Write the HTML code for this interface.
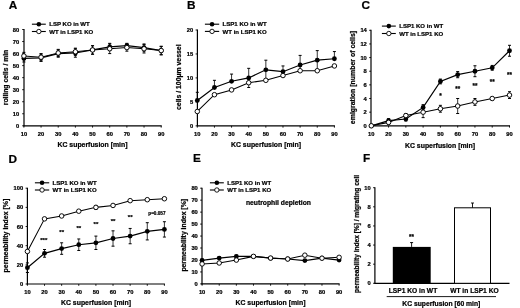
<!DOCTYPE html>
<html><head><meta charset="utf-8"><style>
html,body{margin:0;padding:0;background:#fff;width:520px;height:308px;overflow:hidden}
svg{display:block;filter:grayscale(1) blur(0.2px)}
text{font-family:"Liberation Sans", sans-serif;fill:#000;stroke:#000;stroke-width:0.22px}
</style></head><body>
<svg width="520" height="308" viewBox="0 0 520 308">
<line x1="24.00" y1="29.00" x2="24.00" y2="126.30" stroke="#000" stroke-width="1.2"/>
<line x1="23.50" y1="125.80" x2="161.70" y2="125.80" stroke="#000" stroke-width="1.2"/>
<line x1="22.20" y1="125.80" x2="24.00" y2="125.80" stroke="#000" stroke-width="0.9"/>
<text x="19.20" y="127.87" font-size="5.75" text-anchor="end" font-weight="bold">0</text>
<line x1="22.20" y1="113.76" x2="24.00" y2="113.76" stroke="#000" stroke-width="0.9"/>
<text x="19.20" y="115.83" font-size="5.75" text-anchor="end" font-weight="bold">10</text>
<line x1="22.20" y1="101.72" x2="24.00" y2="101.72" stroke="#000" stroke-width="0.9"/>
<text x="19.20" y="103.79" font-size="5.75" text-anchor="end" font-weight="bold">20</text>
<line x1="22.20" y1="89.69" x2="24.00" y2="89.69" stroke="#000" stroke-width="0.9"/>
<text x="19.20" y="91.76" font-size="5.75" text-anchor="end" font-weight="bold">30</text>
<line x1="22.20" y1="77.65" x2="24.00" y2="77.65" stroke="#000" stroke-width="0.9"/>
<text x="19.20" y="79.72" font-size="5.75" text-anchor="end" font-weight="bold">40</text>
<line x1="22.20" y1="65.61" x2="24.00" y2="65.61" stroke="#000" stroke-width="0.9"/>
<text x="19.20" y="67.68" font-size="5.75" text-anchor="end" font-weight="bold">50</text>
<line x1="22.20" y1="53.58" x2="24.00" y2="53.58" stroke="#000" stroke-width="0.9"/>
<text x="19.20" y="55.65" font-size="5.75" text-anchor="end" font-weight="bold">60</text>
<line x1="22.20" y1="41.54" x2="24.00" y2="41.54" stroke="#000" stroke-width="0.9"/>
<text x="19.20" y="43.61" font-size="5.75" text-anchor="end" font-weight="bold">70</text>
<line x1="22.20" y1="29.50" x2="24.00" y2="29.50" stroke="#000" stroke-width="0.9"/>
<text x="19.20" y="31.57" font-size="5.75" text-anchor="end" font-weight="bold">80</text>
<line x1="23.90" y1="125.80" x2="23.90" y2="127.60" stroke="#000" stroke-width="0.9"/>
<text x="23.90" y="135.80" font-size="5.75" text-anchor="middle" font-weight="bold">10</text>
<line x1="41.06" y1="125.80" x2="41.06" y2="127.60" stroke="#000" stroke-width="0.9"/>
<text x="41.06" y="135.80" font-size="5.75" text-anchor="middle" font-weight="bold">20</text>
<line x1="58.22" y1="125.80" x2="58.22" y2="127.60" stroke="#000" stroke-width="0.9"/>
<text x="58.22" y="135.80" font-size="5.75" text-anchor="middle" font-weight="bold">30</text>
<line x1="75.39" y1="125.80" x2="75.39" y2="127.60" stroke="#000" stroke-width="0.9"/>
<text x="75.39" y="135.80" font-size="5.75" text-anchor="middle" font-weight="bold">40</text>
<line x1="92.55" y1="125.80" x2="92.55" y2="127.60" stroke="#000" stroke-width="0.9"/>
<text x="92.55" y="135.80" font-size="5.75" text-anchor="middle" font-weight="bold">50</text>
<line x1="109.71" y1="125.80" x2="109.71" y2="127.60" stroke="#000" stroke-width="0.9"/>
<text x="109.71" y="135.80" font-size="5.75" text-anchor="middle" font-weight="bold">60</text>
<line x1="126.87" y1="125.80" x2="126.87" y2="127.60" stroke="#000" stroke-width="0.9"/>
<text x="126.87" y="135.80" font-size="5.75" text-anchor="middle" font-weight="bold">70</text>
<line x1="144.04" y1="125.80" x2="144.04" y2="127.60" stroke="#000" stroke-width="0.9"/>
<text x="144.04" y="135.80" font-size="5.75" text-anchor="middle" font-weight="bold">80</text>
<line x1="161.20" y1="125.80" x2="161.20" y2="127.60" stroke="#000" stroke-width="0.9"/>
<text x="161.20" y="135.80" font-size="5.75" text-anchor="middle" font-weight="bold">90</text>
<text x="92.50" y="146.80" font-size="6.9" text-anchor="middle" font-weight="bold">KC superfusion [min]</text>
<text x="8.20" y="77.50" font-size="6.8" text-anchor="middle" font-weight="bold" transform="rotate(-90 8.2 77.5)">rolling cells / min</text>
<text x="8.80" y="8.50" font-size="11.8" text-anchor="start" font-weight="bold">A</text>
<line x1="31.90" y1="24.20" x2="45.80" y2="24.20" stroke="#000" stroke-width="1.1"/>
<circle cx="38.85" cy="24.20" r="2.3" fill="#000"/>
<text x="49.20" y="26.35" font-size="6.05" text-anchor="start" font-weight="bold">LSP KO in WT</text>
<line x1="31.90" y1="31.50" x2="45.80" y2="31.50" stroke="#000" stroke-width="1.1"/>
<circle cx="38.85" cy="31.50" r="2.1999999999999997" fill="#fff" stroke="#000" stroke-width="0.9"/>
<text x="49.20" y="33.65" font-size="6.05" text-anchor="start" font-weight="bold">WT in LSP1 KO</text>
<polyline points="23.90,55.98 41.06,57.19 58.22,52.97 75.39,51.77 92.55,49.96 109.71,48.76 126.87,47.56 144.04,48.76 161.20,50.57" fill="none" stroke="#000" stroke-width="1.05"/>
<polyline points="23.90,58.39 41.06,57.79 58.22,53.58 75.39,52.97 92.55,49.96 109.71,46.95 126.87,45.63 144.04,47.56 161.20,50.57" fill="none" stroke="#000" stroke-width="1.2"/>
<line x1="23.90" y1="55.98" x2="23.90" y2="52.37" stroke="#000" stroke-width="0.8"/>
<line x1="22.40" y1="52.37" x2="25.40" y2="52.37" stroke="#000" stroke-width="1.0"/>
<line x1="23.90" y1="55.98" x2="23.90" y2="59.59" stroke="#000" stroke-width="0.8"/>
<line x1="22.40" y1="59.59" x2="25.40" y2="59.59" stroke="#000" stroke-width="1.0"/>
<line x1="41.06" y1="57.19" x2="41.06" y2="53.58" stroke="#000" stroke-width="0.8"/>
<line x1="39.56" y1="53.58" x2="42.56" y2="53.58" stroke="#000" stroke-width="1.0"/>
<line x1="41.06" y1="57.19" x2="41.06" y2="60.80" stroke="#000" stroke-width="0.8"/>
<line x1="39.56" y1="60.80" x2="42.56" y2="60.80" stroke="#000" stroke-width="1.0"/>
<line x1="58.22" y1="52.97" x2="58.22" y2="49.36" stroke="#000" stroke-width="0.8"/>
<line x1="56.72" y1="49.36" x2="59.72" y2="49.36" stroke="#000" stroke-width="1.0"/>
<line x1="58.22" y1="52.97" x2="58.22" y2="56.58" stroke="#000" stroke-width="0.8"/>
<line x1="56.72" y1="56.58" x2="59.72" y2="56.58" stroke="#000" stroke-width="1.0"/>
<line x1="75.39" y1="51.77" x2="75.39" y2="48.16" stroke="#000" stroke-width="0.8"/>
<line x1="73.89" y1="48.16" x2="76.89" y2="48.16" stroke="#000" stroke-width="1.0"/>
<line x1="75.39" y1="51.77" x2="75.39" y2="55.38" stroke="#000" stroke-width="0.8"/>
<line x1="73.89" y1="55.38" x2="76.89" y2="55.38" stroke="#000" stroke-width="1.0"/>
<line x1="92.55" y1="49.96" x2="92.55" y2="45.75" stroke="#000" stroke-width="0.8"/>
<line x1="91.05" y1="45.75" x2="94.05" y2="45.75" stroke="#000" stroke-width="1.0"/>
<line x1="92.55" y1="49.96" x2="92.55" y2="54.18" stroke="#000" stroke-width="0.8"/>
<line x1="91.05" y1="54.18" x2="94.05" y2="54.18" stroke="#000" stroke-width="1.0"/>
<line x1="109.71" y1="48.76" x2="109.71" y2="43.95" stroke="#000" stroke-width="0.8"/>
<line x1="108.21" y1="43.95" x2="111.21" y2="43.95" stroke="#000" stroke-width="1.0"/>
<line x1="109.71" y1="48.76" x2="109.71" y2="53.58" stroke="#000" stroke-width="0.8"/>
<line x1="108.21" y1="53.58" x2="111.21" y2="53.58" stroke="#000" stroke-width="1.0"/>
<line x1="126.87" y1="47.56" x2="126.87" y2="43.95" stroke="#000" stroke-width="0.8"/>
<line x1="125.37" y1="43.95" x2="128.37" y2="43.95" stroke="#000" stroke-width="1.0"/>
<line x1="126.87" y1="47.56" x2="126.87" y2="51.17" stroke="#000" stroke-width="0.8"/>
<line x1="125.37" y1="51.17" x2="128.37" y2="51.17" stroke="#000" stroke-width="1.0"/>
<line x1="144.04" y1="48.76" x2="144.04" y2="44.55" stroke="#000" stroke-width="0.8"/>
<line x1="142.54" y1="44.55" x2="145.54" y2="44.55" stroke="#000" stroke-width="1.0"/>
<line x1="144.04" y1="48.76" x2="144.04" y2="52.97" stroke="#000" stroke-width="0.8"/>
<line x1="142.54" y1="52.97" x2="145.54" y2="52.97" stroke="#000" stroke-width="1.0"/>
<line x1="161.20" y1="50.57" x2="161.20" y2="46.35" stroke="#000" stroke-width="0.8"/>
<line x1="159.70" y1="46.35" x2="162.70" y2="46.35" stroke="#000" stroke-width="1.0"/>
<line x1="161.20" y1="50.57" x2="161.20" y2="54.78" stroke="#000" stroke-width="0.8"/>
<line x1="159.70" y1="54.78" x2="162.70" y2="54.78" stroke="#000" stroke-width="1.0"/>
<line x1="23.90" y1="58.39" x2="23.90" y2="54.78" stroke="#000" stroke-width="0.8"/>
<line x1="22.40" y1="54.78" x2="25.40" y2="54.78" stroke="#000" stroke-width="1.0"/>
<line x1="23.90" y1="58.39" x2="23.90" y2="62.00" stroke="#000" stroke-width="0.8"/>
<line x1="22.40" y1="62.00" x2="25.40" y2="62.00" stroke="#000" stroke-width="1.0"/>
<line x1="41.06" y1="57.79" x2="41.06" y2="54.18" stroke="#000" stroke-width="0.8"/>
<line x1="39.56" y1="54.18" x2="42.56" y2="54.18" stroke="#000" stroke-width="1.0"/>
<line x1="41.06" y1="57.79" x2="41.06" y2="61.40" stroke="#000" stroke-width="0.8"/>
<line x1="39.56" y1="61.40" x2="42.56" y2="61.40" stroke="#000" stroke-width="1.0"/>
<line x1="58.22" y1="53.58" x2="58.22" y2="49.96" stroke="#000" stroke-width="0.8"/>
<line x1="56.72" y1="49.96" x2="59.72" y2="49.96" stroke="#000" stroke-width="1.0"/>
<line x1="58.22" y1="53.58" x2="58.22" y2="57.19" stroke="#000" stroke-width="0.8"/>
<line x1="56.72" y1="57.19" x2="59.72" y2="57.19" stroke="#000" stroke-width="1.0"/>
<line x1="75.39" y1="52.97" x2="75.39" y2="48.76" stroke="#000" stroke-width="0.8"/>
<line x1="73.89" y1="48.76" x2="76.89" y2="48.76" stroke="#000" stroke-width="1.0"/>
<line x1="75.39" y1="52.97" x2="75.39" y2="57.19" stroke="#000" stroke-width="0.8"/>
<line x1="73.89" y1="57.19" x2="76.89" y2="57.19" stroke="#000" stroke-width="1.0"/>
<line x1="92.55" y1="49.96" x2="92.55" y2="45.75" stroke="#000" stroke-width="0.8"/>
<line x1="91.05" y1="45.75" x2="94.05" y2="45.75" stroke="#000" stroke-width="1.0"/>
<line x1="92.55" y1="49.96" x2="92.55" y2="54.18" stroke="#000" stroke-width="0.8"/>
<line x1="91.05" y1="54.18" x2="94.05" y2="54.18" stroke="#000" stroke-width="1.0"/>
<line x1="109.71" y1="46.95" x2="109.71" y2="43.34" stroke="#000" stroke-width="0.8"/>
<line x1="108.21" y1="43.34" x2="111.21" y2="43.34" stroke="#000" stroke-width="1.0"/>
<line x1="109.71" y1="46.95" x2="109.71" y2="50.57" stroke="#000" stroke-width="0.8"/>
<line x1="108.21" y1="50.57" x2="111.21" y2="50.57" stroke="#000" stroke-width="1.0"/>
<line x1="126.87" y1="45.63" x2="126.87" y2="43.34" stroke="#000" stroke-width="0.8"/>
<line x1="125.37" y1="43.34" x2="128.37" y2="43.34" stroke="#000" stroke-width="1.0"/>
<line x1="126.87" y1="45.63" x2="126.87" y2="47.92" stroke="#000" stroke-width="0.8"/>
<line x1="125.37" y1="47.92" x2="128.37" y2="47.92" stroke="#000" stroke-width="1.0"/>
<line x1="144.04" y1="47.56" x2="144.04" y2="43.95" stroke="#000" stroke-width="0.8"/>
<line x1="142.54" y1="43.95" x2="145.54" y2="43.95" stroke="#000" stroke-width="1.0"/>
<line x1="144.04" y1="47.56" x2="144.04" y2="51.17" stroke="#000" stroke-width="0.8"/>
<line x1="142.54" y1="51.17" x2="145.54" y2="51.17" stroke="#000" stroke-width="1.0"/>
<line x1="161.20" y1="50.57" x2="161.20" y2="46.35" stroke="#000" stroke-width="0.8"/>
<line x1="159.70" y1="46.35" x2="162.70" y2="46.35" stroke="#000" stroke-width="1.0"/>
<line x1="161.20" y1="50.57" x2="161.20" y2="54.78" stroke="#000" stroke-width="0.8"/>
<line x1="159.70" y1="54.78" x2="162.70" y2="54.78" stroke="#000" stroke-width="1.0"/>
<circle cx="23.90" cy="58.39" r="2.4" fill="#000"/>
<circle cx="41.06" cy="57.79" r="2.4" fill="#000"/>
<circle cx="58.22" cy="53.58" r="2.4" fill="#000"/>
<circle cx="75.39" cy="52.97" r="2.4" fill="#000"/>
<circle cx="92.55" cy="49.96" r="2.4" fill="#000"/>
<circle cx="109.71" cy="46.95" r="2.4" fill="#000"/>
<circle cx="126.87" cy="45.63" r="2.4" fill="#000"/>
<circle cx="144.04" cy="47.56" r="2.4" fill="#000"/>
<circle cx="161.20" cy="50.57" r="2.4" fill="#000"/>
<circle cx="23.90" cy="55.98" r="2.275" fill="#fff" stroke="#000" stroke-width="0.95"/>
<circle cx="41.06" cy="57.19" r="2.275" fill="#fff" stroke="#000" stroke-width="0.95"/>
<circle cx="58.22" cy="52.97" r="2.275" fill="#fff" stroke="#000" stroke-width="0.95"/>
<circle cx="75.39" cy="51.77" r="2.275" fill="#fff" stroke="#000" stroke-width="0.95"/>
<circle cx="92.55" cy="49.96" r="2.275" fill="#fff" stroke="#000" stroke-width="0.95"/>
<circle cx="109.71" cy="48.76" r="2.275" fill="#fff" stroke="#000" stroke-width="0.95"/>
<circle cx="126.87" cy="47.56" r="2.275" fill="#fff" stroke="#000" stroke-width="0.95"/>
<circle cx="144.04" cy="48.76" r="2.275" fill="#fff" stroke="#000" stroke-width="0.95"/>
<circle cx="161.20" cy="50.57" r="2.275" fill="#fff" stroke="#000" stroke-width="0.95"/>
<line x1="197.40" y1="29.50" x2="197.40" y2="126.35" stroke="#000" stroke-width="1.2"/>
<line x1="196.90" y1="125.85" x2="334.90" y2="125.85" stroke="#000" stroke-width="1.2"/>
<line x1="195.60" y1="125.85" x2="197.40" y2="125.85" stroke="#000" stroke-width="0.9"/>
<text x="193.20" y="127.92" font-size="5.75" text-anchor="end" font-weight="bold">0</text>
<line x1="195.60" y1="101.89" x2="197.40" y2="101.89" stroke="#000" stroke-width="0.9"/>
<text x="193.20" y="103.96" font-size="5.75" text-anchor="end" font-weight="bold">5</text>
<line x1="195.60" y1="77.92" x2="197.40" y2="77.92" stroke="#000" stroke-width="0.9"/>
<text x="193.20" y="79.99" font-size="5.75" text-anchor="end" font-weight="bold">10</text>
<line x1="195.60" y1="53.96" x2="197.40" y2="53.96" stroke="#000" stroke-width="0.9"/>
<text x="193.20" y="56.03" font-size="5.75" text-anchor="end" font-weight="bold">15</text>
<line x1="195.60" y1="30.00" x2="197.40" y2="30.00" stroke="#000" stroke-width="0.9"/>
<text x="193.20" y="32.07" font-size="5.75" text-anchor="end" font-weight="bold">20</text>
<line x1="197.30" y1="125.85" x2="197.30" y2="127.65" stroke="#000" stroke-width="0.9"/>
<text x="197.30" y="135.85" font-size="5.75" text-anchor="middle" font-weight="bold">10</text>
<line x1="214.44" y1="125.85" x2="214.44" y2="127.65" stroke="#000" stroke-width="0.9"/>
<text x="214.44" y="135.85" font-size="5.75" text-anchor="middle" font-weight="bold">20</text>
<line x1="231.57" y1="125.85" x2="231.57" y2="127.65" stroke="#000" stroke-width="0.9"/>
<text x="231.57" y="135.85" font-size="5.75" text-anchor="middle" font-weight="bold">30</text>
<line x1="248.71" y1="125.85" x2="248.71" y2="127.65" stroke="#000" stroke-width="0.9"/>
<text x="248.71" y="135.85" font-size="5.75" text-anchor="middle" font-weight="bold">40</text>
<line x1="265.85" y1="125.85" x2="265.85" y2="127.65" stroke="#000" stroke-width="0.9"/>
<text x="265.85" y="135.85" font-size="5.75" text-anchor="middle" font-weight="bold">50</text>
<line x1="282.99" y1="125.85" x2="282.99" y2="127.65" stroke="#000" stroke-width="0.9"/>
<text x="282.99" y="135.85" font-size="5.75" text-anchor="middle" font-weight="bold">60</text>
<line x1="300.12" y1="125.85" x2="300.12" y2="127.65" stroke="#000" stroke-width="0.9"/>
<text x="300.12" y="135.85" font-size="5.75" text-anchor="middle" font-weight="bold">70</text>
<line x1="317.26" y1="125.85" x2="317.26" y2="127.65" stroke="#000" stroke-width="0.9"/>
<text x="317.26" y="135.85" font-size="5.75" text-anchor="middle" font-weight="bold">80</text>
<line x1="334.40" y1="125.85" x2="334.40" y2="127.65" stroke="#000" stroke-width="0.9"/>
<text x="334.40" y="135.85" font-size="5.75" text-anchor="middle" font-weight="bold">90</text>
<text x="266.00" y="146.60" font-size="6.9" text-anchor="middle" font-weight="bold">KC superfusion [min]</text>
<text x="181.40" y="77.20" font-size="6.9" text-anchor="middle" font-weight="bold" transform="rotate(-90 181.4 77.2)">cells / 100µm vessel</text>
<text x="187.00" y="8.60" font-size="11.8" text-anchor="start" font-weight="bold">B</text>
<line x1="204.90" y1="24.20" x2="219.20" y2="24.20" stroke="#000" stroke-width="1.1"/>
<circle cx="212.05" cy="24.20" r="2.3" fill="#000"/>
<text x="222.60" y="26.35" font-size="6.05" text-anchor="start" font-weight="bold">LSP1 KO in WT</text>
<line x1="204.90" y1="31.40" x2="219.20" y2="31.40" stroke="#000" stroke-width="1.1"/>
<circle cx="212.05" cy="31.40" r="2.1999999999999997" fill="#fff" stroke="#000" stroke-width="0.9"/>
<text x="222.60" y="33.55" font-size="6.05" text-anchor="start" font-weight="bold">WT in LSP1 KO</text>
<polyline points="197.30,111.47 214.44,94.70 231.57,89.91 248.71,82.72 265.85,80.32 282.99,75.53 300.12,70.74 317.26,70.74 334.40,65.94" fill="none" stroke="#000" stroke-width="1.05"/>
<polyline points="197.30,100.45 214.44,87.51 231.57,81.28 248.71,77.92 265.85,69.78 282.99,71.69 300.12,64.99 317.26,60.19 334.40,58.75" fill="none" stroke="#000" stroke-width="1.2"/>
<line x1="248.71" y1="82.72" x2="248.71" y2="87.51" stroke="#000" stroke-width="0.8"/>
<line x1="247.21" y1="87.51" x2="250.21" y2="87.51" stroke="#000" stroke-width="1.0"/>
<line x1="197.30" y1="100.45" x2="197.30" y2="92.30" stroke="#000" stroke-width="0.8"/>
<line x1="195.80" y1="92.30" x2="198.80" y2="92.30" stroke="#000" stroke-width="1.0"/>
<line x1="214.44" y1="87.51" x2="214.44" y2="80.32" stroke="#000" stroke-width="0.8"/>
<line x1="212.94" y1="80.32" x2="215.94" y2="80.32" stroke="#000" stroke-width="1.0"/>
<line x1="231.57" y1="81.28" x2="231.57" y2="74.09" stroke="#000" stroke-width="0.8"/>
<line x1="230.07" y1="74.09" x2="233.07" y2="74.09" stroke="#000" stroke-width="1.0"/>
<line x1="248.71" y1="77.92" x2="248.71" y2="68.34" stroke="#000" stroke-width="0.8"/>
<line x1="247.21" y1="68.34" x2="250.21" y2="68.34" stroke="#000" stroke-width="1.0"/>
<line x1="265.85" y1="69.78" x2="265.85" y2="60.19" stroke="#000" stroke-width="0.8"/>
<line x1="264.35" y1="60.19" x2="267.35" y2="60.19" stroke="#000" stroke-width="1.0"/>
<line x1="265.85" y1="69.78" x2="265.85" y2="79.36" stroke="#000" stroke-width="0.8"/>
<line x1="264.35" y1="79.36" x2="267.35" y2="79.36" stroke="#000" stroke-width="1.0"/>
<line x1="282.99" y1="71.69" x2="282.99" y2="65.94" stroke="#000" stroke-width="0.8"/>
<line x1="281.49" y1="65.94" x2="284.49" y2="65.94" stroke="#000" stroke-width="1.0"/>
<line x1="282.99" y1="71.69" x2="282.99" y2="76.49" stroke="#000" stroke-width="0.8"/>
<line x1="281.49" y1="76.49" x2="284.49" y2="76.49" stroke="#000" stroke-width="1.0"/>
<line x1="300.12" y1="64.99" x2="300.12" y2="55.40" stroke="#000" stroke-width="0.8"/>
<line x1="298.62" y1="55.40" x2="301.62" y2="55.40" stroke="#000" stroke-width="1.0"/>
<line x1="300.12" y1="64.99" x2="300.12" y2="71.22" stroke="#000" stroke-width="0.8"/>
<line x1="298.62" y1="71.22" x2="301.62" y2="71.22" stroke="#000" stroke-width="1.0"/>
<line x1="317.26" y1="60.19" x2="317.26" y2="50.61" stroke="#000" stroke-width="0.8"/>
<line x1="315.76" y1="50.61" x2="318.76" y2="50.61" stroke="#000" stroke-width="1.0"/>
<line x1="317.26" y1="60.19" x2="317.26" y2="70.74" stroke="#000" stroke-width="0.8"/>
<line x1="315.76" y1="70.74" x2="318.76" y2="70.74" stroke="#000" stroke-width="1.0"/>
<line x1="334.40" y1="58.75" x2="334.40" y2="51.57" stroke="#000" stroke-width="0.8"/>
<line x1="332.90" y1="51.57" x2="335.90" y2="51.57" stroke="#000" stroke-width="1.0"/>
<circle cx="197.30" cy="100.45" r="2.4" fill="#000"/>
<circle cx="214.44" cy="87.51" r="2.4" fill="#000"/>
<circle cx="231.57" cy="81.28" r="2.4" fill="#000"/>
<circle cx="248.71" cy="77.92" r="2.4" fill="#000"/>
<circle cx="265.85" cy="69.78" r="2.4" fill="#000"/>
<circle cx="282.99" cy="71.69" r="2.4" fill="#000"/>
<circle cx="300.12" cy="64.99" r="2.4" fill="#000"/>
<circle cx="317.26" cy="60.19" r="2.4" fill="#000"/>
<circle cx="334.40" cy="58.75" r="2.4" fill="#000"/>
<circle cx="197.30" cy="111.47" r="2.275" fill="#fff" stroke="#000" stroke-width="0.95"/>
<circle cx="214.44" cy="94.70" r="2.275" fill="#fff" stroke="#000" stroke-width="0.95"/>
<circle cx="231.57" cy="89.91" r="2.275" fill="#fff" stroke="#000" stroke-width="0.95"/>
<circle cx="248.71" cy="82.72" r="2.275" fill="#fff" stroke="#000" stroke-width="0.95"/>
<circle cx="265.85" cy="80.32" r="2.275" fill="#fff" stroke="#000" stroke-width="0.95"/>
<circle cx="282.99" cy="75.53" r="2.275" fill="#fff" stroke="#000" stroke-width="0.95"/>
<circle cx="300.12" cy="70.74" r="2.275" fill="#fff" stroke="#000" stroke-width="0.95"/>
<circle cx="317.26" cy="70.74" r="2.275" fill="#fff" stroke="#000" stroke-width="0.95"/>
<circle cx="334.40" cy="65.94" r="2.275" fill="#fff" stroke="#000" stroke-width="0.95"/>
<line x1="371.00" y1="29.80" x2="371.00" y2="126.30" stroke="#000" stroke-width="1.2"/>
<line x1="370.50" y1="125.80" x2="510.00" y2="125.80" stroke="#000" stroke-width="1.2"/>
<line x1="369.20" y1="125.80" x2="371.00" y2="125.80" stroke="#000" stroke-width="0.9"/>
<text x="366.80" y="127.87" font-size="5.75" text-anchor="end" font-weight="bold">0</text>
<line x1="369.20" y1="112.16" x2="371.00" y2="112.16" stroke="#000" stroke-width="0.9"/>
<text x="366.80" y="114.23" font-size="5.75" text-anchor="end" font-weight="bold">2</text>
<line x1="369.20" y1="98.51" x2="371.00" y2="98.51" stroke="#000" stroke-width="0.9"/>
<text x="366.80" y="100.58" font-size="5.75" text-anchor="end" font-weight="bold">4</text>
<line x1="369.20" y1="84.87" x2="371.00" y2="84.87" stroke="#000" stroke-width="0.9"/>
<text x="366.80" y="86.94" font-size="5.75" text-anchor="end" font-weight="bold">6</text>
<line x1="369.20" y1="71.23" x2="371.00" y2="71.23" stroke="#000" stroke-width="0.9"/>
<text x="366.80" y="73.30" font-size="5.75" text-anchor="end" font-weight="bold">8</text>
<line x1="369.20" y1="57.59" x2="371.00" y2="57.59" stroke="#000" stroke-width="0.9"/>
<text x="366.80" y="59.66" font-size="5.75" text-anchor="end" font-weight="bold">10</text>
<line x1="369.20" y1="43.94" x2="371.00" y2="43.94" stroke="#000" stroke-width="0.9"/>
<text x="366.80" y="46.01" font-size="5.75" text-anchor="end" font-weight="bold">12</text>
<line x1="369.20" y1="30.30" x2="371.00" y2="30.30" stroke="#000" stroke-width="0.9"/>
<text x="366.80" y="32.37" font-size="5.75" text-anchor="end" font-weight="bold">14</text>
<line x1="371.30" y1="125.80" x2="371.30" y2="127.60" stroke="#000" stroke-width="0.9"/>
<text x="371.30" y="135.80" font-size="5.75" text-anchor="middle" font-weight="bold">10</text>
<line x1="388.57" y1="125.80" x2="388.57" y2="127.60" stroke="#000" stroke-width="0.9"/>
<text x="388.57" y="135.80" font-size="5.75" text-anchor="middle" font-weight="bold">20</text>
<line x1="405.85" y1="125.80" x2="405.85" y2="127.60" stroke="#000" stroke-width="0.9"/>
<text x="405.85" y="135.80" font-size="5.75" text-anchor="middle" font-weight="bold">30</text>
<line x1="423.12" y1="125.80" x2="423.12" y2="127.60" stroke="#000" stroke-width="0.9"/>
<text x="423.12" y="135.80" font-size="5.75" text-anchor="middle" font-weight="bold">40</text>
<line x1="440.40" y1="125.80" x2="440.40" y2="127.60" stroke="#000" stroke-width="0.9"/>
<text x="440.40" y="135.80" font-size="5.75" text-anchor="middle" font-weight="bold">50</text>
<line x1="457.68" y1="125.80" x2="457.68" y2="127.60" stroke="#000" stroke-width="0.9"/>
<text x="457.68" y="135.80" font-size="5.75" text-anchor="middle" font-weight="bold">60</text>
<line x1="474.95" y1="125.80" x2="474.95" y2="127.60" stroke="#000" stroke-width="0.9"/>
<text x="474.95" y="135.80" font-size="5.75" text-anchor="middle" font-weight="bold">70</text>
<line x1="492.23" y1="125.80" x2="492.23" y2="127.60" stroke="#000" stroke-width="0.9"/>
<text x="492.23" y="135.80" font-size="5.75" text-anchor="middle" font-weight="bold">80</text>
<line x1="509.50" y1="125.80" x2="509.50" y2="127.60" stroke="#000" stroke-width="0.9"/>
<text x="509.50" y="135.80" font-size="5.75" text-anchor="middle" font-weight="bold">90</text>
<text x="440.00" y="147.60" font-size="6.9" text-anchor="middle" font-weight="bold">KC superfusion [min]</text>
<text x="354.90" y="77.50" font-size="6.95" text-anchor="middle" font-weight="bold" transform="rotate(-90 354.9 77.5)">emigration [number of cells]</text>
<text x="361.40" y="9.30" font-size="11.8" text-anchor="start" font-weight="bold">C</text>
<line x1="381.90" y1="26.10" x2="395.80" y2="26.10" stroke="#000" stroke-width="1.1"/>
<circle cx="388.85" cy="26.10" r="2.3" fill="#000"/>
<text x="399.20" y="28.25" font-size="6.05" text-anchor="start" font-weight="bold">LSP1 KO in WT</text>
<line x1="381.90" y1="33.50" x2="395.80" y2="33.50" stroke="#000" stroke-width="1.1"/>
<circle cx="388.85" cy="33.50" r="2.1999999999999997" fill="#fff" stroke="#000" stroke-width="0.9"/>
<text x="399.20" y="35.65" font-size="6.05" text-anchor="start" font-weight="bold">WT in LSP1 KO</text>
<polyline points="371.30,125.80 388.57,122.39 405.85,115.57 423.12,112.16 440.40,108.75 457.68,106.02 474.95,101.92 492.23,98.51 509.50,95.10" fill="none" stroke="#000" stroke-width="1.05"/>
<polyline points="371.30,125.80 388.57,120.68 405.85,118.98 423.12,107.38 440.40,81.46 457.68,74.64 474.95,71.23 492.23,67.82 509.50,50.76" fill="none" stroke="#000" stroke-width="1.2"/>
<line x1="388.57" y1="122.39" x2="388.57" y2="120.34" stroke="#000" stroke-width="0.8"/>
<line x1="387.07" y1="120.34" x2="390.07" y2="120.34" stroke="#000" stroke-width="1.0"/>
<line x1="388.57" y1="122.39" x2="388.57" y2="124.44" stroke="#000" stroke-width="0.8"/>
<line x1="387.07" y1="124.44" x2="390.07" y2="124.44" stroke="#000" stroke-width="1.0"/>
<line x1="405.85" y1="115.57" x2="405.85" y2="113.52" stroke="#000" stroke-width="0.8"/>
<line x1="404.35" y1="113.52" x2="407.35" y2="113.52" stroke="#000" stroke-width="1.0"/>
<line x1="405.85" y1="115.57" x2="405.85" y2="117.61" stroke="#000" stroke-width="0.8"/>
<line x1="404.35" y1="117.61" x2="407.35" y2="117.61" stroke="#000" stroke-width="1.0"/>
<line x1="423.12" y1="112.16" x2="423.12" y2="106.70" stroke="#000" stroke-width="0.8"/>
<line x1="421.62" y1="106.70" x2="424.62" y2="106.70" stroke="#000" stroke-width="1.0"/>
<line x1="423.12" y1="112.16" x2="423.12" y2="117.61" stroke="#000" stroke-width="0.8"/>
<line x1="421.62" y1="117.61" x2="424.62" y2="117.61" stroke="#000" stroke-width="1.0"/>
<line x1="440.40" y1="108.75" x2="440.40" y2="105.34" stroke="#000" stroke-width="0.8"/>
<line x1="438.90" y1="105.34" x2="441.90" y2="105.34" stroke="#000" stroke-width="1.0"/>
<line x1="440.40" y1="108.75" x2="440.40" y2="112.16" stroke="#000" stroke-width="0.8"/>
<line x1="438.90" y1="112.16" x2="441.90" y2="112.16" stroke="#000" stroke-width="1.0"/>
<line x1="457.68" y1="106.02" x2="457.68" y2="98.51" stroke="#000" stroke-width="0.8"/>
<line x1="456.18" y1="98.51" x2="459.18" y2="98.51" stroke="#000" stroke-width="1.0"/>
<line x1="457.68" y1="106.02" x2="457.68" y2="113.52" stroke="#000" stroke-width="0.8"/>
<line x1="456.18" y1="113.52" x2="459.18" y2="113.52" stroke="#000" stroke-width="1.0"/>
<line x1="474.95" y1="101.92" x2="474.95" y2="98.51" stroke="#000" stroke-width="0.8"/>
<line x1="473.45" y1="98.51" x2="476.45" y2="98.51" stroke="#000" stroke-width="1.0"/>
<line x1="474.95" y1="101.92" x2="474.95" y2="105.34" stroke="#000" stroke-width="0.8"/>
<line x1="473.45" y1="105.34" x2="476.45" y2="105.34" stroke="#000" stroke-width="1.0"/>
<line x1="492.23" y1="98.51" x2="492.23" y2="97.15" stroke="#000" stroke-width="0.8"/>
<line x1="490.73" y1="97.15" x2="493.73" y2="97.15" stroke="#000" stroke-width="1.0"/>
<line x1="492.23" y1="98.51" x2="492.23" y2="99.88" stroke="#000" stroke-width="0.8"/>
<line x1="490.73" y1="99.88" x2="493.73" y2="99.88" stroke="#000" stroke-width="1.0"/>
<line x1="509.50" y1="95.10" x2="509.50" y2="91.69" stroke="#000" stroke-width="0.8"/>
<line x1="508.00" y1="91.69" x2="511.00" y2="91.69" stroke="#000" stroke-width="1.0"/>
<line x1="509.50" y1="95.10" x2="509.50" y2="98.51" stroke="#000" stroke-width="0.8"/>
<line x1="508.00" y1="98.51" x2="511.00" y2="98.51" stroke="#000" stroke-width="1.0"/>
<line x1="388.57" y1="120.68" x2="388.57" y2="118.64" stroke="#000" stroke-width="0.8"/>
<line x1="387.07" y1="118.64" x2="390.07" y2="118.64" stroke="#000" stroke-width="1.0"/>
<line x1="388.57" y1="120.68" x2="388.57" y2="122.73" stroke="#000" stroke-width="0.8"/>
<line x1="387.07" y1="122.73" x2="390.07" y2="122.73" stroke="#000" stroke-width="1.0"/>
<line x1="405.85" y1="118.98" x2="405.85" y2="116.93" stroke="#000" stroke-width="0.8"/>
<line x1="404.35" y1="116.93" x2="407.35" y2="116.93" stroke="#000" stroke-width="1.0"/>
<line x1="405.85" y1="118.98" x2="405.85" y2="121.02" stroke="#000" stroke-width="0.8"/>
<line x1="404.35" y1="121.02" x2="407.35" y2="121.02" stroke="#000" stroke-width="1.0"/>
<line x1="423.12" y1="107.38" x2="423.12" y2="104.65" stroke="#000" stroke-width="0.8"/>
<line x1="421.62" y1="104.65" x2="424.62" y2="104.65" stroke="#000" stroke-width="1.0"/>
<line x1="423.12" y1="107.38" x2="423.12" y2="110.11" stroke="#000" stroke-width="0.8"/>
<line x1="421.62" y1="110.11" x2="424.62" y2="110.11" stroke="#000" stroke-width="1.0"/>
<line x1="440.40" y1="81.46" x2="440.40" y2="79.07" stroke="#000" stroke-width="0.8"/>
<line x1="438.90" y1="79.07" x2="441.90" y2="79.07" stroke="#000" stroke-width="1.0"/>
<line x1="440.40" y1="81.46" x2="440.40" y2="83.85" stroke="#000" stroke-width="0.8"/>
<line x1="438.90" y1="83.85" x2="441.90" y2="83.85" stroke="#000" stroke-width="1.0"/>
<line x1="457.68" y1="74.64" x2="457.68" y2="71.57" stroke="#000" stroke-width="0.8"/>
<line x1="456.18" y1="71.57" x2="459.18" y2="71.57" stroke="#000" stroke-width="1.0"/>
<line x1="457.68" y1="74.64" x2="457.68" y2="77.71" stroke="#000" stroke-width="0.8"/>
<line x1="456.18" y1="77.71" x2="459.18" y2="77.71" stroke="#000" stroke-width="1.0"/>
<line x1="474.95" y1="71.23" x2="474.95" y2="65.77" stroke="#000" stroke-width="0.8"/>
<line x1="473.45" y1="65.77" x2="476.45" y2="65.77" stroke="#000" stroke-width="1.0"/>
<line x1="474.95" y1="71.23" x2="474.95" y2="76.69" stroke="#000" stroke-width="0.8"/>
<line x1="473.45" y1="76.69" x2="476.45" y2="76.69" stroke="#000" stroke-width="1.0"/>
<line x1="492.23" y1="67.82" x2="492.23" y2="65.43" stroke="#000" stroke-width="0.8"/>
<line x1="490.73" y1="65.43" x2="493.73" y2="65.43" stroke="#000" stroke-width="1.0"/>
<line x1="492.23" y1="67.82" x2="492.23" y2="70.21" stroke="#000" stroke-width="0.8"/>
<line x1="490.73" y1="70.21" x2="493.73" y2="70.21" stroke="#000" stroke-width="1.0"/>
<line x1="509.50" y1="50.76" x2="509.50" y2="45.31" stroke="#000" stroke-width="0.8"/>
<line x1="508.00" y1="45.31" x2="511.00" y2="45.31" stroke="#000" stroke-width="1.0"/>
<line x1="509.50" y1="50.76" x2="509.50" y2="56.22" stroke="#000" stroke-width="0.8"/>
<line x1="508.00" y1="56.22" x2="511.00" y2="56.22" stroke="#000" stroke-width="1.0"/>
<circle cx="371.30" cy="125.80" r="2.4" fill="#000"/>
<circle cx="388.57" cy="120.68" r="2.4" fill="#000"/>
<circle cx="405.85" cy="118.98" r="2.4" fill="#000"/>
<circle cx="423.12" cy="107.38" r="2.4" fill="#000"/>
<circle cx="440.40" cy="81.46" r="2.4" fill="#000"/>
<circle cx="457.68" cy="74.64" r="2.4" fill="#000"/>
<circle cx="474.95" cy="71.23" r="2.4" fill="#000"/>
<circle cx="492.23" cy="67.82" r="2.4" fill="#000"/>
<circle cx="509.50" cy="50.76" r="2.4" fill="#000"/>
<circle cx="371.30" cy="125.80" r="2.275" fill="#fff" stroke="#000" stroke-width="0.95"/>
<circle cx="388.57" cy="122.39" r="2.275" fill="#fff" stroke="#000" stroke-width="0.95"/>
<circle cx="405.85" cy="115.57" r="2.275" fill="#fff" stroke="#000" stroke-width="0.95"/>
<circle cx="423.12" cy="112.16" r="2.275" fill="#fff" stroke="#000" stroke-width="0.95"/>
<circle cx="440.40" cy="108.75" r="2.275" fill="#fff" stroke="#000" stroke-width="0.95"/>
<circle cx="457.68" cy="106.02" r="2.275" fill="#fff" stroke="#000" stroke-width="0.95"/>
<circle cx="474.95" cy="101.92" r="2.275" fill="#fff" stroke="#000" stroke-width="0.95"/>
<circle cx="492.23" cy="98.51" r="2.275" fill="#fff" stroke="#000" stroke-width="0.95"/>
<circle cx="509.50" cy="95.10" r="2.275" fill="#fff" stroke="#000" stroke-width="0.95"/>
<text x="440.40" y="98.11" font-size="6.5" text-anchor="middle" font-weight="bold">*</text>
<text x="457.68" y="91.41" font-size="6.3" text-anchor="middle" font-weight="bold">**</text>
<text x="474.95" y="88.41" font-size="6.3" text-anchor="middle" font-weight="bold">**</text>
<text x="492.23" y="83.71" font-size="6.3" text-anchor="middle" font-weight="bold">**</text>
<text x="509.50" y="76.61" font-size="6.3" text-anchor="middle" font-weight="bold">**</text>
<line x1="27.40" y1="187.70" x2="27.40" y2="284.50" stroke="#000" stroke-width="1.2"/>
<line x1="26.90" y1="284.00" x2="164.90" y2="284.00" stroke="#000" stroke-width="1.2"/>
<line x1="25.60" y1="284.00" x2="27.40" y2="284.00" stroke="#000" stroke-width="0.9"/>
<text x="23.20" y="286.07" font-size="5.75" text-anchor="end" font-weight="bold">0</text>
<line x1="25.60" y1="264.84" x2="27.40" y2="264.84" stroke="#000" stroke-width="0.9"/>
<text x="23.20" y="266.91" font-size="5.75" text-anchor="end" font-weight="bold">20</text>
<line x1="25.60" y1="245.68" x2="27.40" y2="245.68" stroke="#000" stroke-width="0.9"/>
<text x="23.20" y="247.75" font-size="5.75" text-anchor="end" font-weight="bold">40</text>
<line x1="25.60" y1="226.52" x2="27.40" y2="226.52" stroke="#000" stroke-width="0.9"/>
<text x="23.20" y="228.59" font-size="5.75" text-anchor="end" font-weight="bold">60</text>
<line x1="25.60" y1="207.36" x2="27.40" y2="207.36" stroke="#000" stroke-width="0.9"/>
<text x="23.20" y="209.43" font-size="5.75" text-anchor="end" font-weight="bold">80</text>
<line x1="25.60" y1="188.20" x2="27.40" y2="188.20" stroke="#000" stroke-width="0.9"/>
<text x="23.20" y="190.27" font-size="5.75" text-anchor="end" font-weight="bold">100</text>
<line x1="27.40" y1="284.00" x2="27.40" y2="285.80" stroke="#000" stroke-width="0.9"/>
<text x="27.40" y="294.00" font-size="5.75" text-anchor="middle" font-weight="bold">10</text>
<line x1="44.52" y1="284.00" x2="44.52" y2="285.80" stroke="#000" stroke-width="0.9"/>
<text x="44.52" y="294.00" font-size="5.75" text-anchor="middle" font-weight="bold">20</text>
<line x1="61.65" y1="284.00" x2="61.65" y2="285.80" stroke="#000" stroke-width="0.9"/>
<text x="61.65" y="294.00" font-size="5.75" text-anchor="middle" font-weight="bold">30</text>
<line x1="78.78" y1="284.00" x2="78.78" y2="285.80" stroke="#000" stroke-width="0.9"/>
<text x="78.78" y="294.00" font-size="5.75" text-anchor="middle" font-weight="bold">40</text>
<line x1="95.90" y1="284.00" x2="95.90" y2="285.80" stroke="#000" stroke-width="0.9"/>
<text x="95.90" y="294.00" font-size="5.75" text-anchor="middle" font-weight="bold">50</text>
<line x1="113.03" y1="284.00" x2="113.03" y2="285.80" stroke="#000" stroke-width="0.9"/>
<text x="113.03" y="294.00" font-size="5.75" text-anchor="middle" font-weight="bold">60</text>
<line x1="130.15" y1="284.00" x2="130.15" y2="285.80" stroke="#000" stroke-width="0.9"/>
<text x="130.15" y="294.00" font-size="5.75" text-anchor="middle" font-weight="bold">70</text>
<line x1="147.28" y1="284.00" x2="147.28" y2="285.80" stroke="#000" stroke-width="0.9"/>
<text x="147.28" y="294.00" font-size="5.75" text-anchor="middle" font-weight="bold">80</text>
<line x1="164.40" y1="284.00" x2="164.40" y2="285.80" stroke="#000" stroke-width="0.9"/>
<text x="164.40" y="294.00" font-size="5.75" text-anchor="middle" font-weight="bold">90</text>
<text x="96.00" y="305.10" font-size="6.9" text-anchor="middle" font-weight="bold">KC superfusion [min]</text>
<text x="7.80" y="235.60" font-size="6.95" text-anchor="middle" font-weight="bold" transform="rotate(-90 7.8 235.6)">permeability index [%]</text>
<text x="8.40" y="162.50" font-size="11.8" text-anchor="start" font-weight="bold">D</text>
<line x1="34.90" y1="182.80" x2="49.20" y2="182.80" stroke="#000" stroke-width="1.1"/>
<circle cx="42.05" cy="182.80" r="2.3" fill="#000"/>
<text x="52.60" y="184.95" font-size="6.05" text-anchor="start" font-weight="bold">LSP1 KO in WT</text>
<line x1="34.90" y1="190.00" x2="49.20" y2="190.00" stroke="#000" stroke-width="1.1"/>
<circle cx="42.05" cy="190.00" r="2.1999999999999997" fill="#fff" stroke="#000" stroke-width="0.9"/>
<text x="52.60" y="192.15" font-size="6.05" text-anchor="start" font-weight="bold">WT in LSP1 KO</text>
<polyline points="27.40,251.43 44.52,218.86 61.65,215.98 78.78,211.19 95.90,207.36 113.03,205.44 130.15,200.65 147.28,199.70 164.40,198.74" fill="none" stroke="#000" stroke-width="1.05"/>
<polyline points="27.40,267.71 44.52,253.34 61.65,248.55 78.78,244.72 95.90,242.81 113.03,238.50 130.15,236.10 147.28,231.31 164.40,229.39" fill="none" stroke="#000" stroke-width="1.2"/>
<line x1="95.90" y1="207.36" x2="95.90" y2="205.44" stroke="#000" stroke-width="0.8"/>
<line x1="94.40" y1="205.44" x2="97.40" y2="205.44" stroke="#000" stroke-width="1.0"/>
<line x1="95.90" y1="207.36" x2="95.90" y2="209.28" stroke="#000" stroke-width="0.8"/>
<line x1="94.40" y1="209.28" x2="97.40" y2="209.28" stroke="#000" stroke-width="1.0"/>
<line x1="27.40" y1="267.71" x2="27.40" y2="262.92" stroke="#000" stroke-width="0.8"/>
<line x1="25.90" y1="262.92" x2="28.90" y2="262.92" stroke="#000" stroke-width="1.0"/>
<line x1="27.40" y1="267.71" x2="27.40" y2="272.50" stroke="#000" stroke-width="0.8"/>
<line x1="25.90" y1="272.50" x2="28.90" y2="272.50" stroke="#000" stroke-width="1.0"/>
<line x1="44.52" y1="253.34" x2="44.52" y2="249.51" stroke="#000" stroke-width="0.8"/>
<line x1="43.02" y1="249.51" x2="46.02" y2="249.51" stroke="#000" stroke-width="1.0"/>
<line x1="44.52" y1="253.34" x2="44.52" y2="257.18" stroke="#000" stroke-width="0.8"/>
<line x1="43.02" y1="257.18" x2="46.02" y2="257.18" stroke="#000" stroke-width="1.0"/>
<line x1="61.65" y1="248.55" x2="61.65" y2="242.81" stroke="#000" stroke-width="0.8"/>
<line x1="60.15" y1="242.81" x2="63.15" y2="242.81" stroke="#000" stroke-width="1.0"/>
<line x1="61.65" y1="248.55" x2="61.65" y2="254.30" stroke="#000" stroke-width="0.8"/>
<line x1="60.15" y1="254.30" x2="63.15" y2="254.30" stroke="#000" stroke-width="1.0"/>
<line x1="78.78" y1="244.72" x2="78.78" y2="238.97" stroke="#000" stroke-width="0.8"/>
<line x1="77.28" y1="238.97" x2="80.28" y2="238.97" stroke="#000" stroke-width="1.0"/>
<line x1="78.78" y1="244.72" x2="78.78" y2="250.47" stroke="#000" stroke-width="0.8"/>
<line x1="77.28" y1="250.47" x2="80.28" y2="250.47" stroke="#000" stroke-width="1.0"/>
<line x1="95.90" y1="242.81" x2="95.90" y2="236.10" stroke="#000" stroke-width="0.8"/>
<line x1="94.40" y1="236.10" x2="97.40" y2="236.10" stroke="#000" stroke-width="1.0"/>
<line x1="95.90" y1="242.81" x2="95.90" y2="249.51" stroke="#000" stroke-width="0.8"/>
<line x1="94.40" y1="249.51" x2="97.40" y2="249.51" stroke="#000" stroke-width="1.0"/>
<line x1="113.03" y1="238.50" x2="113.03" y2="230.83" stroke="#000" stroke-width="0.8"/>
<line x1="111.53" y1="230.83" x2="114.53" y2="230.83" stroke="#000" stroke-width="1.0"/>
<line x1="113.03" y1="238.50" x2="113.03" y2="246.16" stroke="#000" stroke-width="0.8"/>
<line x1="111.53" y1="246.16" x2="114.53" y2="246.16" stroke="#000" stroke-width="1.0"/>
<line x1="130.15" y1="236.10" x2="130.15" y2="228.44" stroke="#000" stroke-width="0.8"/>
<line x1="128.65" y1="228.44" x2="131.65" y2="228.44" stroke="#000" stroke-width="1.0"/>
<line x1="130.15" y1="236.10" x2="130.15" y2="243.76" stroke="#000" stroke-width="0.8"/>
<line x1="128.65" y1="243.76" x2="131.65" y2="243.76" stroke="#000" stroke-width="1.0"/>
<line x1="147.28" y1="231.31" x2="147.28" y2="222.69" stroke="#000" stroke-width="0.8"/>
<line x1="145.78" y1="222.69" x2="148.78" y2="222.69" stroke="#000" stroke-width="1.0"/>
<line x1="147.28" y1="231.31" x2="147.28" y2="239.93" stroke="#000" stroke-width="0.8"/>
<line x1="145.78" y1="239.93" x2="148.78" y2="239.93" stroke="#000" stroke-width="1.0"/>
<line x1="164.40" y1="229.39" x2="164.40" y2="221.73" stroke="#000" stroke-width="0.8"/>
<line x1="162.90" y1="221.73" x2="165.90" y2="221.73" stroke="#000" stroke-width="1.0"/>
<line x1="164.40" y1="229.39" x2="164.40" y2="237.06" stroke="#000" stroke-width="0.8"/>
<line x1="162.90" y1="237.06" x2="165.90" y2="237.06" stroke="#000" stroke-width="1.0"/>
<circle cx="27.40" cy="267.71" r="2.4" fill="#000"/>
<circle cx="44.52" cy="253.34" r="2.4" fill="#000"/>
<circle cx="61.65" cy="248.55" r="2.4" fill="#000"/>
<circle cx="78.78" cy="244.72" r="2.4" fill="#000"/>
<circle cx="95.90" cy="242.81" r="2.4" fill="#000"/>
<circle cx="113.03" cy="238.50" r="2.4" fill="#000"/>
<circle cx="130.15" cy="236.10" r="2.4" fill="#000"/>
<circle cx="147.28" cy="231.31" r="2.4" fill="#000"/>
<circle cx="164.40" cy="229.39" r="2.4" fill="#000"/>
<circle cx="27.40" cy="251.43" r="2.275" fill="#fff" stroke="#000" stroke-width="0.95"/>
<circle cx="44.52" cy="218.86" r="2.275" fill="#fff" stroke="#000" stroke-width="0.95"/>
<circle cx="61.65" cy="215.98" r="2.275" fill="#fff" stroke="#000" stroke-width="0.95"/>
<circle cx="78.78" cy="211.19" r="2.275" fill="#fff" stroke="#000" stroke-width="0.95"/>
<circle cx="95.90" cy="207.36" r="2.275" fill="#fff" stroke="#000" stroke-width="0.95"/>
<circle cx="113.03" cy="205.44" r="2.275" fill="#fff" stroke="#000" stroke-width="0.95"/>
<circle cx="130.15" cy="200.65" r="2.275" fill="#fff" stroke="#000" stroke-width="0.95"/>
<circle cx="147.28" cy="199.70" r="2.275" fill="#fff" stroke="#000" stroke-width="0.95"/>
<circle cx="164.40" cy="198.74" r="2.275" fill="#fff" stroke="#000" stroke-width="0.95"/>
<text x="43.73" y="241.61" font-size="6.1" text-anchor="middle" font-weight="bold">***</text>
<text x="61.65" y="233.81" font-size="6.1" text-anchor="middle" font-weight="bold">**</text>
<text x="78.78" y="229.61" font-size="6.1" text-anchor="middle" font-weight="bold">**</text>
<text x="95.90" y="226.21" font-size="6.1" text-anchor="middle" font-weight="bold">**</text>
<text x="113.03" y="222.91" font-size="6.1" text-anchor="middle" font-weight="bold">**</text>
<text x="130.15" y="218.91" font-size="6.1" text-anchor="middle" font-weight="bold">**</text>
<line x1="202.00" y1="187.70" x2="202.00" y2="284.40" stroke="#000" stroke-width="1.2"/>
<line x1="201.50" y1="283.90" x2="339.60" y2="283.90" stroke="#000" stroke-width="1.2"/>
<line x1="200.20" y1="283.90" x2="202.00" y2="283.90" stroke="#000" stroke-width="0.9"/>
<text x="197.80" y="285.97" font-size="5.75" text-anchor="end" font-weight="bold">0</text>
<line x1="200.20" y1="271.94" x2="202.00" y2="271.94" stroke="#000" stroke-width="0.9"/>
<text x="197.80" y="274.01" font-size="5.75" text-anchor="end" font-weight="bold">10</text>
<line x1="200.20" y1="259.97" x2="202.00" y2="259.97" stroke="#000" stroke-width="0.9"/>
<text x="197.80" y="262.04" font-size="5.75" text-anchor="end" font-weight="bold">20</text>
<line x1="200.20" y1="248.01" x2="202.00" y2="248.01" stroke="#000" stroke-width="0.9"/>
<text x="197.80" y="250.08" font-size="5.75" text-anchor="end" font-weight="bold">30</text>
<line x1="200.20" y1="236.05" x2="202.00" y2="236.05" stroke="#000" stroke-width="0.9"/>
<text x="197.80" y="238.12" font-size="5.75" text-anchor="end" font-weight="bold">40</text>
<line x1="200.20" y1="224.09" x2="202.00" y2="224.09" stroke="#000" stroke-width="0.9"/>
<text x="197.80" y="226.16" font-size="5.75" text-anchor="end" font-weight="bold">50</text>
<line x1="200.20" y1="212.12" x2="202.00" y2="212.12" stroke="#000" stroke-width="0.9"/>
<text x="197.80" y="214.19" font-size="5.75" text-anchor="end" font-weight="bold">60</text>
<line x1="200.20" y1="200.16" x2="202.00" y2="200.16" stroke="#000" stroke-width="0.9"/>
<text x="197.80" y="202.23" font-size="5.75" text-anchor="end" font-weight="bold">70</text>
<line x1="200.20" y1="188.20" x2="202.00" y2="188.20" stroke="#000" stroke-width="0.9"/>
<text x="197.80" y="190.27" font-size="5.75" text-anchor="end" font-weight="bold">80</text>
<line x1="202.10" y1="283.90" x2="202.10" y2="285.70" stroke="#000" stroke-width="0.9"/>
<text x="202.10" y="293.90" font-size="5.75" text-anchor="middle" font-weight="bold">10</text>
<line x1="219.22" y1="283.90" x2="219.22" y2="285.70" stroke="#000" stroke-width="0.9"/>
<text x="219.22" y="293.90" font-size="5.75" text-anchor="middle" font-weight="bold">20</text>
<line x1="236.35" y1="283.90" x2="236.35" y2="285.70" stroke="#000" stroke-width="0.9"/>
<text x="236.35" y="293.90" font-size="5.75" text-anchor="middle" font-weight="bold">30</text>
<line x1="253.48" y1="283.90" x2="253.48" y2="285.70" stroke="#000" stroke-width="0.9"/>
<text x="253.48" y="293.90" font-size="5.75" text-anchor="middle" font-weight="bold">40</text>
<line x1="270.60" y1="283.90" x2="270.60" y2="285.70" stroke="#000" stroke-width="0.9"/>
<text x="270.60" y="293.90" font-size="5.75" text-anchor="middle" font-weight="bold">50</text>
<line x1="287.73" y1="283.90" x2="287.73" y2="285.70" stroke="#000" stroke-width="0.9"/>
<text x="287.73" y="293.90" font-size="5.75" text-anchor="middle" font-weight="bold">60</text>
<line x1="304.85" y1="283.90" x2="304.85" y2="285.70" stroke="#000" stroke-width="0.9"/>
<text x="304.85" y="293.90" font-size="5.75" text-anchor="middle" font-weight="bold">70</text>
<line x1="321.98" y1="283.90" x2="321.98" y2="285.70" stroke="#000" stroke-width="0.9"/>
<text x="321.98" y="293.90" font-size="5.75" text-anchor="middle" font-weight="bold">80</text>
<line x1="339.10" y1="283.90" x2="339.10" y2="285.70" stroke="#000" stroke-width="0.9"/>
<text x="339.10" y="293.90" font-size="5.75" text-anchor="middle" font-weight="bold">90</text>
<text x="270.50" y="305.00" font-size="6.9" text-anchor="middle" font-weight="bold">KC superfusion [min]</text>
<text x="185.90" y="235.30" font-size="6.85" text-anchor="middle" font-weight="bold" transform="rotate(-90 185.9 235.3)">permeability index [%]</text>
<text x="193.00" y="162.00" font-size="11.8" text-anchor="start" font-weight="bold">E</text>
<line x1="209.90" y1="182.80" x2="223.80" y2="182.80" stroke="#000" stroke-width="1.1"/>
<circle cx="216.85" cy="182.80" r="2.3" fill="#000"/>
<text x="227.20" y="184.95" font-size="6.05" text-anchor="start" font-weight="bold">LSP1 KO in WT</text>
<line x1="209.90" y1="190.00" x2="223.80" y2="190.00" stroke="#000" stroke-width="1.1"/>
<circle cx="216.85" cy="190.00" r="2.1999999999999997" fill="#fff" stroke="#000" stroke-width="0.9"/>
<text x="227.20" y="192.15" font-size="6.05" text-anchor="start" font-weight="bold">WT in LSP1 KO</text>
<polyline points="202.10,263.92 219.22,262.97 236.35,260.09 253.48,256.39 270.60,258.06 287.73,259.02 304.85,255.19 321.98,258.18 339.10,257.34" fill="none" stroke="#000" stroke-width="1.05"/>
<polyline points="202.10,260.33 219.22,258.06 236.35,256.39 253.48,256.39 270.60,258.18 287.73,259.02 304.85,260.57 321.98,258.18 339.10,260.09" fill="none" stroke="#000" stroke-width="1.2"/>
<line x1="202.10" y1="263.92" x2="202.10" y2="262.73" stroke="#000" stroke-width="0.8"/>
<line x1="200.60" y1="262.73" x2="203.60" y2="262.73" stroke="#000" stroke-width="1.0"/>
<line x1="202.10" y1="263.92" x2="202.10" y2="265.12" stroke="#000" stroke-width="0.8"/>
<line x1="200.60" y1="265.12" x2="203.60" y2="265.12" stroke="#000" stroke-width="1.0"/>
<line x1="219.22" y1="262.97" x2="219.22" y2="261.77" stroke="#000" stroke-width="0.8"/>
<line x1="217.72" y1="261.77" x2="220.72" y2="261.77" stroke="#000" stroke-width="1.0"/>
<line x1="219.22" y1="262.97" x2="219.22" y2="264.16" stroke="#000" stroke-width="0.8"/>
<line x1="217.72" y1="264.16" x2="220.72" y2="264.16" stroke="#000" stroke-width="1.0"/>
<line x1="236.35" y1="260.09" x2="236.35" y2="258.90" stroke="#000" stroke-width="0.8"/>
<line x1="234.85" y1="258.90" x2="237.85" y2="258.90" stroke="#000" stroke-width="1.0"/>
<line x1="236.35" y1="260.09" x2="236.35" y2="261.29" stroke="#000" stroke-width="0.8"/>
<line x1="234.85" y1="261.29" x2="237.85" y2="261.29" stroke="#000" stroke-width="1.0"/>
<line x1="253.48" y1="256.39" x2="253.48" y2="255.79" stroke="#000" stroke-width="0.8"/>
<line x1="251.98" y1="255.79" x2="254.98" y2="255.79" stroke="#000" stroke-width="1.0"/>
<line x1="253.48" y1="256.39" x2="253.48" y2="256.98" stroke="#000" stroke-width="0.8"/>
<line x1="251.98" y1="256.98" x2="254.98" y2="256.98" stroke="#000" stroke-width="1.0"/>
<line x1="270.60" y1="258.06" x2="270.60" y2="257.46" stroke="#000" stroke-width="0.8"/>
<line x1="269.10" y1="257.46" x2="272.10" y2="257.46" stroke="#000" stroke-width="1.0"/>
<line x1="270.60" y1="258.06" x2="270.60" y2="258.66" stroke="#000" stroke-width="0.8"/>
<line x1="269.10" y1="258.66" x2="272.10" y2="258.66" stroke="#000" stroke-width="1.0"/>
<line x1="287.73" y1="259.02" x2="287.73" y2="258.42" stroke="#000" stroke-width="0.8"/>
<line x1="286.23" y1="258.42" x2="289.23" y2="258.42" stroke="#000" stroke-width="1.0"/>
<line x1="287.73" y1="259.02" x2="287.73" y2="259.62" stroke="#000" stroke-width="0.8"/>
<line x1="286.23" y1="259.62" x2="289.23" y2="259.62" stroke="#000" stroke-width="1.0"/>
<line x1="304.85" y1="255.19" x2="304.85" y2="254.59" stroke="#000" stroke-width="0.8"/>
<line x1="303.35" y1="254.59" x2="306.35" y2="254.59" stroke="#000" stroke-width="1.0"/>
<line x1="304.85" y1="255.19" x2="304.85" y2="255.79" stroke="#000" stroke-width="0.8"/>
<line x1="303.35" y1="255.79" x2="306.35" y2="255.79" stroke="#000" stroke-width="1.0"/>
<line x1="321.98" y1="258.18" x2="321.98" y2="257.58" stroke="#000" stroke-width="0.8"/>
<line x1="320.48" y1="257.58" x2="323.48" y2="257.58" stroke="#000" stroke-width="1.0"/>
<line x1="321.98" y1="258.18" x2="321.98" y2="258.78" stroke="#000" stroke-width="0.8"/>
<line x1="320.48" y1="258.78" x2="323.48" y2="258.78" stroke="#000" stroke-width="1.0"/>
<line x1="339.10" y1="257.34" x2="339.10" y2="256.75" stroke="#000" stroke-width="0.8"/>
<line x1="337.60" y1="256.75" x2="340.60" y2="256.75" stroke="#000" stroke-width="1.0"/>
<line x1="339.10" y1="257.34" x2="339.10" y2="257.94" stroke="#000" stroke-width="0.8"/>
<line x1="337.60" y1="257.94" x2="340.60" y2="257.94" stroke="#000" stroke-width="1.0"/>
<line x1="202.10" y1="260.33" x2="202.10" y2="259.14" stroke="#000" stroke-width="0.8"/>
<line x1="200.60" y1="259.14" x2="203.60" y2="259.14" stroke="#000" stroke-width="1.0"/>
<line x1="202.10" y1="260.33" x2="202.10" y2="261.53" stroke="#000" stroke-width="0.8"/>
<line x1="200.60" y1="261.53" x2="203.60" y2="261.53" stroke="#000" stroke-width="1.0"/>
<line x1="219.22" y1="258.06" x2="219.22" y2="256.86" stroke="#000" stroke-width="0.8"/>
<line x1="217.72" y1="256.86" x2="220.72" y2="256.86" stroke="#000" stroke-width="1.0"/>
<line x1="219.22" y1="258.06" x2="219.22" y2="259.26" stroke="#000" stroke-width="0.8"/>
<line x1="217.72" y1="259.26" x2="220.72" y2="259.26" stroke="#000" stroke-width="1.0"/>
<line x1="236.35" y1="256.39" x2="236.35" y2="255.19" stroke="#000" stroke-width="0.8"/>
<line x1="234.85" y1="255.19" x2="237.85" y2="255.19" stroke="#000" stroke-width="1.0"/>
<line x1="236.35" y1="256.39" x2="236.35" y2="257.58" stroke="#000" stroke-width="0.8"/>
<line x1="234.85" y1="257.58" x2="237.85" y2="257.58" stroke="#000" stroke-width="1.0"/>
<line x1="253.48" y1="256.39" x2="253.48" y2="255.79" stroke="#000" stroke-width="0.8"/>
<line x1="251.98" y1="255.79" x2="254.98" y2="255.79" stroke="#000" stroke-width="1.0"/>
<line x1="253.48" y1="256.39" x2="253.48" y2="256.98" stroke="#000" stroke-width="0.8"/>
<line x1="251.98" y1="256.98" x2="254.98" y2="256.98" stroke="#000" stroke-width="1.0"/>
<line x1="270.60" y1="258.18" x2="270.60" y2="257.58" stroke="#000" stroke-width="0.8"/>
<line x1="269.10" y1="257.58" x2="272.10" y2="257.58" stroke="#000" stroke-width="1.0"/>
<line x1="270.60" y1="258.18" x2="270.60" y2="258.78" stroke="#000" stroke-width="0.8"/>
<line x1="269.10" y1="258.78" x2="272.10" y2="258.78" stroke="#000" stroke-width="1.0"/>
<line x1="287.73" y1="259.02" x2="287.73" y2="258.42" stroke="#000" stroke-width="0.8"/>
<line x1="286.23" y1="258.42" x2="289.23" y2="258.42" stroke="#000" stroke-width="1.0"/>
<line x1="287.73" y1="259.02" x2="287.73" y2="259.62" stroke="#000" stroke-width="0.8"/>
<line x1="286.23" y1="259.62" x2="289.23" y2="259.62" stroke="#000" stroke-width="1.0"/>
<line x1="304.85" y1="260.57" x2="304.85" y2="259.97" stroke="#000" stroke-width="0.8"/>
<line x1="303.35" y1="259.97" x2="306.35" y2="259.97" stroke="#000" stroke-width="1.0"/>
<line x1="304.85" y1="260.57" x2="304.85" y2="261.17" stroke="#000" stroke-width="0.8"/>
<line x1="303.35" y1="261.17" x2="306.35" y2="261.17" stroke="#000" stroke-width="1.0"/>
<line x1="321.98" y1="258.18" x2="321.98" y2="257.58" stroke="#000" stroke-width="0.8"/>
<line x1="320.48" y1="257.58" x2="323.48" y2="257.58" stroke="#000" stroke-width="1.0"/>
<line x1="321.98" y1="258.18" x2="321.98" y2="258.78" stroke="#000" stroke-width="0.8"/>
<line x1="320.48" y1="258.78" x2="323.48" y2="258.78" stroke="#000" stroke-width="1.0"/>
<line x1="339.10" y1="260.09" x2="339.10" y2="259.50" stroke="#000" stroke-width="0.8"/>
<line x1="337.60" y1="259.50" x2="340.60" y2="259.50" stroke="#000" stroke-width="1.0"/>
<line x1="339.10" y1="260.09" x2="339.10" y2="260.69" stroke="#000" stroke-width="0.8"/>
<line x1="337.60" y1="260.69" x2="340.60" y2="260.69" stroke="#000" stroke-width="1.0"/>
<circle cx="202.10" cy="260.33" r="2.4" fill="#000"/>
<circle cx="219.22" cy="258.06" r="2.4" fill="#000"/>
<circle cx="236.35" cy="256.39" r="2.4" fill="#000"/>
<circle cx="253.48" cy="256.39" r="2.4" fill="#000"/>
<circle cx="270.60" cy="258.18" r="2.4" fill="#000"/>
<circle cx="287.73" cy="259.02" r="2.4" fill="#000"/>
<circle cx="304.85" cy="260.57" r="2.4" fill="#000"/>
<circle cx="321.98" cy="258.18" r="2.4" fill="#000"/>
<circle cx="339.10" cy="260.09" r="2.4" fill="#000"/>
<circle cx="202.10" cy="263.92" r="2.275" fill="#fff" stroke="#000" stroke-width="0.95"/>
<circle cx="219.22" cy="262.97" r="2.275" fill="#fff" stroke="#000" stroke-width="0.95"/>
<circle cx="236.35" cy="260.09" r="2.275" fill="#fff" stroke="#000" stroke-width="0.95"/>
<circle cx="253.48" cy="256.39" r="2.275" fill="#fff" stroke="#000" stroke-width="0.95"/>
<circle cx="270.60" cy="258.06" r="2.275" fill="#fff" stroke="#000" stroke-width="0.95"/>
<circle cx="287.73" cy="259.02" r="2.275" fill="#fff" stroke="#000" stroke-width="0.95"/>
<circle cx="304.85" cy="255.19" r="2.275" fill="#fff" stroke="#000" stroke-width="0.95"/>
<circle cx="321.98" cy="258.18" r="2.275" fill="#fff" stroke="#000" stroke-width="0.95"/>
<circle cx="339.10" cy="257.34" r="2.275" fill="#fff" stroke="#000" stroke-width="0.95"/>
<text x="156.90" y="215.00" font-size="4.65" text-anchor="middle" font-weight="bold">p=0.057</text>
<text x="245.90" y="205.20" font-size="6.77" text-anchor="start" font-weight="bold">neutrophil depletion</text>
<line x1="374.90" y1="187.20" x2="374.90" y2="283.80" stroke="#000" stroke-width="1.2"/>
<line x1="374.40" y1="283.30" x2="509.50" y2="283.30" stroke="#000" stroke-width="1.2"/>
<line x1="373.10" y1="283.30" x2="374.90" y2="283.30" stroke="#000" stroke-width="0.9"/>
<text x="370.70" y="285.35" font-size="5.75" text-anchor="end" font-weight="bold">0</text>
<line x1="373.10" y1="264.18" x2="374.90" y2="264.18" stroke="#000" stroke-width="0.9"/>
<text x="370.70" y="266.23" font-size="5.75" text-anchor="end" font-weight="bold">2</text>
<line x1="373.10" y1="245.06" x2="374.90" y2="245.06" stroke="#000" stroke-width="0.9"/>
<text x="370.70" y="247.11" font-size="5.75" text-anchor="end" font-weight="bold">4</text>
<line x1="373.10" y1="225.94" x2="374.90" y2="225.94" stroke="#000" stroke-width="0.9"/>
<text x="370.70" y="227.99" font-size="5.75" text-anchor="end" font-weight="bold">6</text>
<line x1="373.10" y1="206.82" x2="374.90" y2="206.82" stroke="#000" stroke-width="0.9"/>
<text x="370.70" y="208.87" font-size="5.75" text-anchor="end" font-weight="bold">8</text>
<line x1="373.10" y1="187.70" x2="374.90" y2="187.70" stroke="#000" stroke-width="0.9"/>
<text x="370.70" y="189.75" font-size="5.75" text-anchor="end" font-weight="bold">10</text>
<rect x="392.80" y="246.90" width="37.90" height="36.40" fill="#000"/>
<line x1="411.60" y1="246.90" x2="411.60" y2="242.60" stroke="#000" stroke-width="0.9"/>
<line x1="410.10" y1="242.60" x2="413.10" y2="242.60" stroke="#000" stroke-width="1.0"/>
<rect x="454.50" y="207.80" width="36.00" height="75.50" fill="#fff" stroke="#000" stroke-width="1"/>
<line x1="472.50" y1="207.78" x2="472.50" y2="203.00" stroke="#000" stroke-width="0.9"/>
<line x1="471.00" y1="203.00" x2="474.00" y2="203.00" stroke="#000" stroke-width="0.9"/>
<text x="411.40" y="238.91" font-size="6.3" text-anchor="middle" font-weight="bold">**</text>
<text x="413.00" y="292.50" font-size="6.66" text-anchor="middle" font-weight="bold">LSP1 KO in WT</text>
<text x="474.40" y="292.50" font-size="6.66" text-anchor="middle" font-weight="bold">WT in LSP1 KO</text>
<line x1="386.70" y1="296.60" x2="496.00" y2="296.60" stroke="#000" stroke-width="0.9"/>
<text x="441.30" y="305.50" font-size="6.75" text-anchor="middle" font-weight="bold">KC superfusion [60 min]</text>
<text x="359.50" y="233.90" font-size="6.58" text-anchor="middle" font-weight="bold" transform="rotate(-90 359.5 233.9)">permeability index [%] / migrating cell</text>
<text x="363.00" y="161.70" font-size="11.8" text-anchor="start" font-weight="bold">F</text>
</svg>
</body></html>
